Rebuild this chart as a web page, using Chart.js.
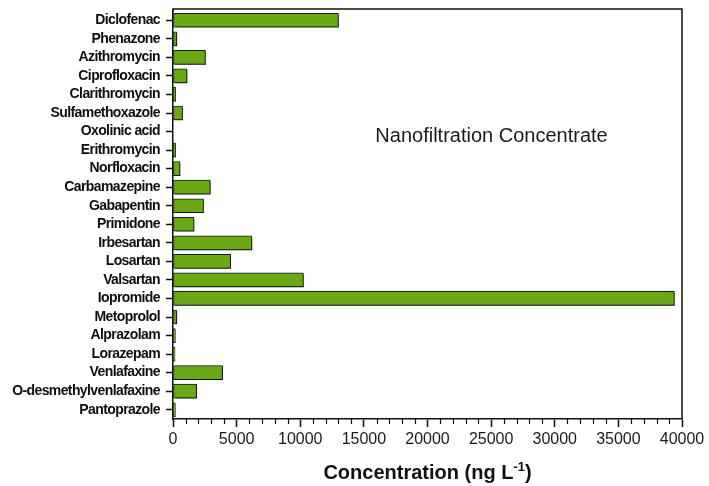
<!DOCTYPE html>
<html>
<head>
<meta charset="utf-8">
<script src="https://cdn.jsdelivr.net/npm/chart.js@4.4.1/dist/chart.umd.min.js"></script>
<style>
  html, body { margin: 0; padding: 0; background: #ffffff; }
  #wrap { width: 709px; height: 486px; position: relative; }
</style>
</head>
<body>
<div id="wrap"><canvas id="chart"></canvas></div>
<script>
// Compounds measured in the nanofiltration concentrate
const compounds = [
  'Diclofenac', 'Phenazone', 'Azithromycin', 'Ciprofloxacin', 'Clarithromycin',
  'Sulfamethoxazole', 'Oxolinic acid', 'Erithromycin', 'Norfloxacin', 'Carbamazepine',
  'Gabapentin', 'Primidone', 'Irbesartan', 'Losartan', 'Valsartan', 'Iopromide',
  'Metoprolol', 'Alprazolam', 'Lorazepam', 'Venlafaxine', 'O-desmethylvenlafaxine',
  'Pantoprazole'
];

// Concentration in ng/L
const concentrations = [
  13000, 300, 2550, 1100, 200,
  750, 0, 200, 550, 2930,
  2400, 1650, 6200, 4530, 10250, 39400,
  300, 180, 150, 3900, 1860,
  180
];

const xTickValues = [0, 5000, 10000, 15000, 20000, 25000, 30000, 35000, 40000];
const minorStep = 1000;
const panelLabel = 'Nanofiltration Concentrate';
const axisTitle = 'Concentration (ng L';
const axisTitleSup = '-1';

const INK = '#111111';
const FRAME_EXTRA = 2; // frame sits a little above the first category band

// Tight tracking for the compound names only
const tracking = {
  id: 'tracking',
  afterUpdate(chart) {
    const s = chart.scales.y;
    if (s && !s._tracked) {
      const orig = s.drawLabels;
      s.drawLabels = function (area) {
        const ctx = this.ctx;
        ctx.save();
        ctx.letterSpacing = '-0.6px';
        orig.call(this, area);
        ctx.restore();
      };
      s._tracked = true;
    }
  }
};

// Soft grey drop shadow under the bars
const barShadow = {
  id: 'barShadow',
  beforeDatasetsDraw(chart) {
    const ctx = chart.ctx;
    ctx.save();
    ctx.shadowColor = 'rgba(0,0,0,0.45)';
    ctx.shadowOffsetX = 1.5;
    ctx.shadowOffsetY = 1.5;
    ctx.shadowBlur = 0.5;
  },
  afterDatasetsDraw(chart) {
    chart.ctx.restore();
  }
};

// Frame, minor ticks, panel label and axis title with superscript
const decorations = {
  id: 'decorations',
  afterDraw(chart) {
    const ctx = chart.ctx;
    const area = chart.chartArea;
    const x = chart.scales.x;
    const y = chart.scales.y;
    ctx.save();
    ctx.strokeStyle = INK;
    ctx.lineWidth = 1.5;
    const top = area.top - FRAME_EXTRA;
    // frame: top of left edge, top edge and right edge
    ctx.beginPath();
    ctx.moveTo(area.left, area.top + 1);
    ctx.lineTo(area.left, top);
    ctx.lineTo(area.right, top);
    ctx.lineTo(area.right, area.bottom);
    ctx.stroke();

    // minor ticks on the value axis
    ctx.lineWidth = 1.2;
    ctx.beginPath();
    for (let v = minorStep; v < x.max; v += minorStep) {
      if (v % 5000 === 0) continue;
      const px = Math.round(x.getPixelForValue(v)) + 0.5;
      ctx.moveTo(px, area.bottom);
      ctx.lineTo(px, area.bottom + 5);
    }
    ctx.stroke();

    // panel label
    ctx.fillStyle = '#1a1a1a';
    ctx.font = '20px "Liberation Sans", Arial, sans-serif';
    ctx.textAlign = 'left';
    ctx.textBaseline = 'middle';
    ctx.fillText(panelLabel, x.getPixelForValue(15900), y.getPixelForValue(6) + 5);

    // axis title with superscript
    const mainFont = 'bold 20px "Liberation Sans", Arial, sans-serif';
    const supFont = 'bold 13px "Liberation Sans", Arial, sans-serif';
    ctx.font = mainFont;
    const w1 = ctx.measureText(axisTitle).width;
    const w3 = ctx.measureText(')').width;
    ctx.font = supFont;
    const w2 = ctx.measureText(axisTitleSup).width;
    const total = w1 + w2 + w3;
    const cx = (area.left + area.right) / 2;
    let tx = cx - total / 2;
    const base = 479;
    ctx.fillStyle = INK;
    ctx.textBaseline = 'alphabetic';
    ctx.font = mainFont;
    ctx.fillText(axisTitle, tx, base);
    tx += w1;
    ctx.font = supFont;
    ctx.fillText(axisTitleSup, tx, base - 8);
    tx += w2;
    ctx.font = mainFont;
    ctx.fillText(')', tx, base);
    ctx.restore();
  }
};

new Chart(document.getElementById('chart'), {
  type: 'bar',
  data: {
    labels: compounds,
    datasets: [{
      data: concentrations,
      backgroundColor: '#6aa815',
      borderColor: '#1a1a1a',
      borderWidth: 1,
      barThickness: 14,
      borderSkipped: false
    }]
  },
  options: {
    indexAxis: 'y',
    responsive: true,
    maintainAspectRatio: false,
    animation: false,
    devicePixelRatio: 1,
    layout: { padding: { top: 9 + FRAME_EXTRA, right: 27, left: 0, bottom: 0 } },
    plugins: {
      legend: { display: false },
      tooltip: { enabled: false },
      title: { display: false }
    },
    scales: {
      x: {
        type: 'linear',
        position: 'bottom',
        min: 0,
        max: 40000,
        afterBuildTicks(scale) {
          scale.ticks = xTickValues.map(v => ({ value: v }));
        },
        afterFit(scale) { scale.height = 67; },
        grid: {
          drawOnChartArea: false,
          drawTicks: true,
          tickLength: 8,
          tickColor: INK,
          tickWidth: 1.5
        },
        border: { display: true, color: INK, width: 1.5 },
        ticks: {
          color: '#1a1a1a',
          padding: 3,
          maxRotation: 0,
          autoSkip: false,
          font: { family: '"Liberation Sans", Arial, sans-serif', size: 16 },
          callback: v => String(v)
        },
        title: { display: false }
      },
      y: {
        type: 'category',
        position: 'left',
        afterFit(scale) {
          scale.width = 173;
          scale.paddingTop = 0;
          scale.paddingBottom = 0;
        },
        grid: {
          offset: false,
          drawOnChartArea: false,
          drawTicks: true,
          tickLength: 7,
          tickColor: INK,
          tickWidth: 1.5
        },
        border: { display: true, color: INK, width: 1.5 },
        ticks: {
          color: '#0d0d0d',
          padding: 6,
          autoSkip: false,
          font: { family: '"Liberation Sans", Arial, sans-serif', size: 14, weight: 'bold' }
        }
      }
    }
  },
  plugins: [tracking, barShadow, decorations]
});
</script>
</body>
</html>
